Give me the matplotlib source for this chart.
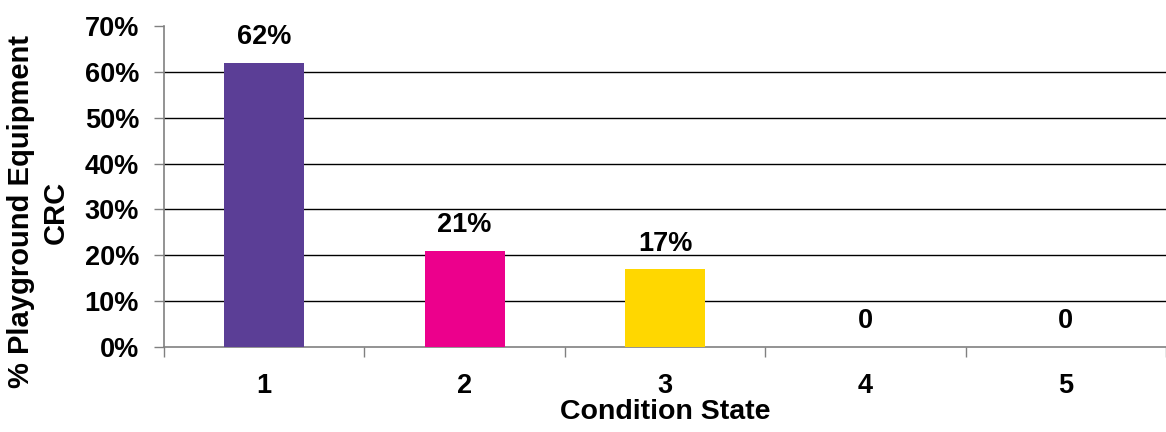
import matplotlib
matplotlib.use("Agg")
import matplotlib.pyplot as plt
from matplotlib.ticker import FixedLocator, PercentFormatter

categories = ["1", "2", "3", "4", "5"]
shares = [0.62, 0.21, 0.17, 0.0, 0.0]
value_labels = ["62%", "21%", "17%", "0", "0"]
bar_colors = ["#5B3E96", "#EC008C", "#FFD700", "#FFFFFF", "#FFFFFF"]
y_ticks = [0.0, 0.1, 0.2, 0.3, 0.4, 0.5, 0.6, 0.7]

plt.rcParams["font.family"] = ["Liberation Sans", "DejaVu Sans"]
plt.rcParams["font.weight"] = "bold"

W, H = 1166, 432
fig = plt.figure(figsize=(W / 100, H / 100), dpi=100)
ax = fig.add_axes([164 / W, 1 - 347 / H, 1 - 164 / W, (347 - 26) / H])

x = list(range(len(categories)))
ax.bar(x, shares, width=0.4, color=bar_colors, zorder=3)

for xi, v, lab in zip(x, shares, value_labels):
    ax.annotate(lab, (xi, v), xytext=(0, 9), textcoords="offset points",
                ha="center", va="bottom", fontsize=19.5, fontweight="bold")

ax.set_xlim(-0.5, len(categories) - 0.5)
ax.set_ylim(0, 0.7)
ax.set_yticks(y_ticks)
ax.yaxis.set_major_formatter(PercentFormatter(1.0, decimals=0))
ax.set_xticks(x)
ax.set_xticklabels(categories)
ax.xaxis.set_minor_locator(FixedLocator([i - 0.5 for i in range(len(categories) + 1)]))

ax.tick_params(axis="x", which="major", length=0, pad=19, labelsize=19.5)
ax.tick_params(axis="x", which="minor", length=7, width=1, color="#808080", direction="out")
ax.tick_params(axis="y", length=7, width=1, color="#808080", direction="out", pad=11, labelsize=19.5)

ax.grid(axis="y", color="black", linewidth=1, zorder=0)
ax.set_axisbelow(True)
gl = ax.yaxis.get_gridlines()
gl[0].set_visible(False)
gl[-1].set_visible(False)

for side in ("top", "right"):
    ax.spines[side].set_visible(False)
for side in ("left", "bottom"):
    ax.spines[side].set_color("#808080")
    ax.spines[side].set_linewidth(1.2)

ax.set_xlabel("Condition State", fontsize=20.5, fontweight="bold", labelpad=0)
ax.set_ylabel("% Playground Equipment\nCRC", fontsize=21, fontweight="bold",
              linespacing=1.3, ha="center", va="center", multialignment="center")
ax.yaxis.set_label_coords(38.5 / W, 1 - 212 / H, transform=fig.transFigure)

fig.savefig("out.png", dpi=100)
